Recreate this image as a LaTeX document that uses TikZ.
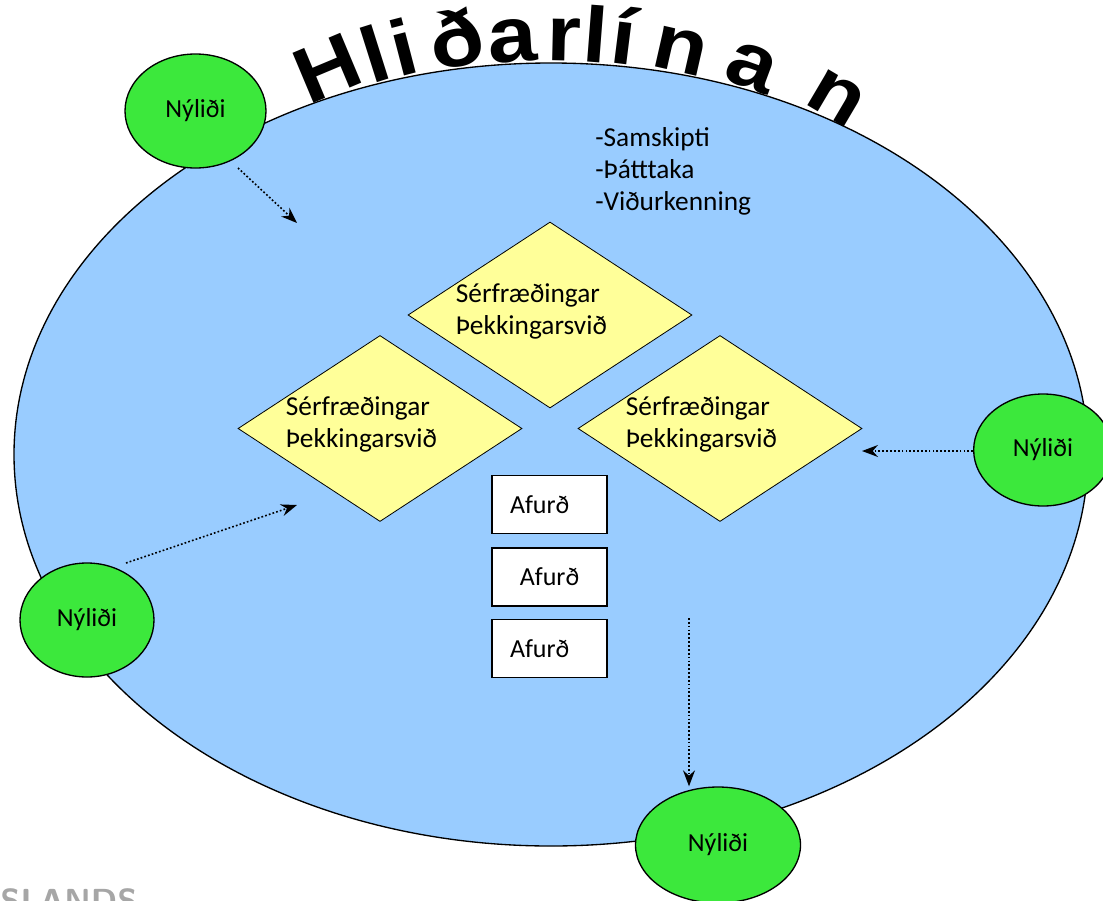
\documentclass[tikz,border=0pt]{standalone}
\usepackage{fontspec}
\setmainfont{Carlito}
\newfontfamily\titlefont{Liberation Sans}
\usetikzlibrary{shapes}
\usetikzlibrary{arrows.meta}

\definecolor{skyfill}{RGB}{153,204,255}
\definecolor{nyfill}{RGB}{60,232,60}
\definecolor{diafill}{RGB}{255,255,153}

\tikzset{
  nylidi/.style={ellipse, draw, line width=1pt, fill=nyfill, inner sep=0pt, font=\fontsize{19.5}{23}\selectfont},
  svid/.style={diamond, draw=black, fill=diafill, line width=0.6pt, inner sep=0pt,
    minimum width=213pt, minimum height=139.5pt},
  svtext/.style={inner sep=0pt, align=left, font=\fontsize{20.5}{24}\selectfont},
  afurd/.style={draw, line width=1pt, fill=white, minimum height=43.5pt, inner xsep=13.5pt,
    text width=59.25pt, font=\fontsize{19.5}{23}\selectfont},
  flow/.style={line width=1.2pt, dash pattern={on 1.3pt off 1.6pt}, -{Stealth[length=12pt,width=9pt,inset=4pt]}}
}

\begin{document}
\begin{tikzpicture}[x=0.75pt,y=0.75pt,yscale=-1,xscale=1]
\useasboundingbox (0,0) rectangle (1103,900);

%Shape: Ellipse (Hliðarlínan)
\draw [fill=skyfill, line width=1pt] (551,454.5) ellipse [x radius=537, y radius=391.5];

%Curved title
\foreach \ch/\t in {H/113.4, l/108.2, i/105.2, ð/99.6, a/94.0, r/88.6, l/85.4, í/82.5, n/76.6, a/68.9, n/59.2}
  \node [anchor=base, inner sep=0pt, font=\titlefont\bfseries\fontsize{59}{59}\selectfont,
    rotate={1.3*atan2(-392*cos(\t),537*sin(\t))}] at ({551+537*cos(\t)},{453-392*sin(\t)}) {\scalebox{1.12}[1]{\ch}};

%Diamonds
\node [svid] (svidtop) at (550,315) {};
\node [svid] (svidleft) at (380,428.5) {};
\node [svid] (svidright) at (720,428.5) {};
\node [svtext] (svidtoptxt) at ([xshift=-14pt,yshift=-3pt]svidtop) {Sérfræðingar\\Þekkingarsvið};
\node [svtext] (svidlefttxt) at ([xshift=-14pt,yshift=-3pt]svidleft) {Sérfræðingar\\Þekkingarsvið};
\node [svtext] (svidrighttxt) at ([xshift=-14pt,yshift=-3pt]svidright) {Sérfræðingar\\Þekkingarsvið};

%Products
\node [afurd, align=left] (afurd1) at (549.5,504.5) {Afurð};
\node [afurd, align=center] (afurd2) at (549.5,577) {Afurð};
\node [afurd, align=left] (afurd3) at (549.5,648.5) {Afurð};

% Text Node
\draw (594,126) node [anchor=north west][inner sep=0.75pt, align=left, font=\fontsize{20.5}{24}\selectfont] (gildi) {-Samskipti\\-Þátttaka\\-Viðurkenning};

%Newcomers
\node [nylidi, minimum width=105.75pt, minimum height=85.5pt] (nytl) at (195.5,111) {Nýliði};
\node [nylidi, minimum width=104pt, minimum height=84pt] (nyr) at (1043,450) {Nýliði};
\node [nylidi, minimum width=100.5pt, minimum height=85.5pt] (nyl) at (87,620) {Nýliði};
\node [nylidi, minimum width=123.75pt, minimum height=87pt] (nyb) at (718,845) {Nýliði};

%Arrows
\coordinate (intl) at (297,223);
\coordinate (intm) at (297,505);
\coordinate (intb) at (689,618);
\coordinate (tipr) at (862,451);
\draw [flow] (238,168) -- (intl);
\draw [flow] (126,563) -- (intm);
\draw [flow] (nyr.west |- tipr) -- (tipr);
\draw [flow] (intb) -- (intb |- nyb.north);

%Cut-off text
\node [anchor=north west, inner sep=0pt, text=black!35, font=\sffamily\bfseries\fontsize{25}{25}\selectfont] (cut) at (0,888) {SLANDS};

\end{tikzpicture}
\end{document}
